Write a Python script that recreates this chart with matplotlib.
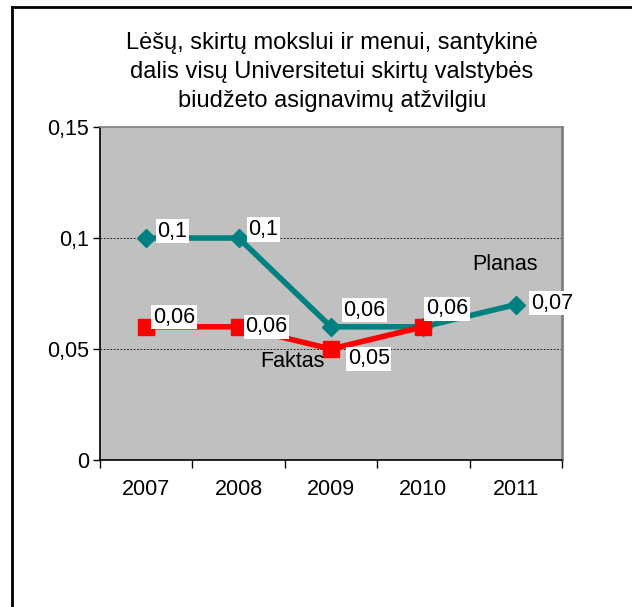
import matplotlib
matplotlib.use('Agg')
import matplotlib.pyplot as plt
from matplotlib.lines import Line2D

plt.rcParams['font.family'] = ['Liberation Sans', 'DejaVu Sans']

# data
years = ['2007', '2008', '2009', '2010', '2011']
planas = [0.1, 0.1, 0.06, 0.06, 0.07]
faktas = [0.06, 0.06, 0.05, 0.06]
planas_labels = ['0,1', '0,1', '0,06', '0,06', '0,07']
faktas_labels = ['0,06', '0,06', '0,05', '0,06']
yticks = [0, 0.05, 0.1, 0.15]
ytick_labels = ['0', '0,05', '0,1', '0,15']
title = ('Lėšų, skirtų mokslui ir menui, santykinė\n'
         'dalis visų Universitetui skirtų valstybės\n'
         'biudžeto asignavimų atžvilgiu')

W, H = 632, 607
fig = plt.figure(figsize=(W / 100, H / 100), dpi=100)
ax = fig.add_axes([100 / W, 1 - 460 / H, 462 / W, 333 / H])

teal = '#008080'
red = '#ff0000'
fs = 15.5

ax.set_facecolor('#c0c0c0')
ax.set_xlim(-0.5, 4.5)
ax.set_ylim(0, 0.15)

for g in [0.05, 0.1]:
    ax.axhline(g, color='black', lw=0.6, ls=(0, (2, 2)), zorder=1)

x_p = list(range(len(planas)))
x_f = list(range(len(faktas)))
ax.plot(x_p, planas, color=teal, lw=4, marker='D', ms=9, zorder=3)
ax.plot(x_f, faktas, color=red, lw=4, marker='s', ms=11, zorder=4)

# data labels (offsets in points)
p_off = [(8, 5), (7, 6), (9, 12), (2, 13), (11, 1)]
f_off = [(5, 7), (5, 0), (12, -7), (2, 13)]
box = dict(boxstyle='square,pad=0.08', fc='white', ec='none')
for x, y, s, o in zip(x_p, planas, planas_labels, p_off):
    ax.annotate(s, (x, y), xytext=o, textcoords='offset points',
                ha='left', va='center', fontsize=fs, bbox=box, zorder=5)
for x, y, s, o in zip(x_f, faktas, faktas_labels, f_off):
    ax.annotate(s, (x, y), xytext=o, textcoords='offset points',
                ha='left', va='center', fontsize=fs, bbox=box, zorder=5)

ax.annotate('Planas', (3.5, 0.07), xytext=(2, 29), textcoords='offset points',
            ha='left', va='center', fontsize=fs)
ax.annotate('Faktas', (2, 0.05), xytext=(-28, -9), textcoords='offset points',
            ha='center', va='center', fontsize=fs, zorder=2)

ax.set_yticks(yticks)
ax.set_yticklabels(ytick_labels, fontsize=fs)
ax.set_xticks([i - 0.5 for i in range(len(years) + 1)], minor=False)
ax.set_xticklabels([])
ax.set_xticks(range(len(years)), minor=True)
ax.set_xticklabels(years, minor=True, fontsize=fs)
ax.tick_params(axis='x', which='major', length=6, width=1, direction='out')
ax.tick_params(axis='x', which='minor', length=0, pad=14)
ax.tick_params(axis='y', length=5, width=1, direction='out', pad=3)

ax.spines['left'].set_color('black')
ax.spines['bottom'].set_color('black')
ax.spines['left'].set_linewidth(1.2)
ax.spines['bottom'].set_linewidth(1.2)
ax.spines['top'].set_color('#808080')
ax.spines['right'].set_color('#808080')
ax.spines['top'].set_linewidth(1.2)
ax.spines['right'].set_linewidth(2)

fig.text(332 / W, 1 - 72 / H, title, ha='center', va='center',
         fontsize=17, linespacing=1.42)

# chart border (only left and top visible)
fig.add_artist(Line2D([12 / W, 12 / W], [0, 1 - 6.5 / H], color='black', lw=2,
                      transform=fig.transFigure))
fig.add_artist(Line2D([12 / W, 1], [1 - 6.5 / H, 1 - 6.5 / H], color='black', lw=2,
                      transform=fig.transFigure))

fig.savefig('out.png', dpi=100, facecolor='white')
